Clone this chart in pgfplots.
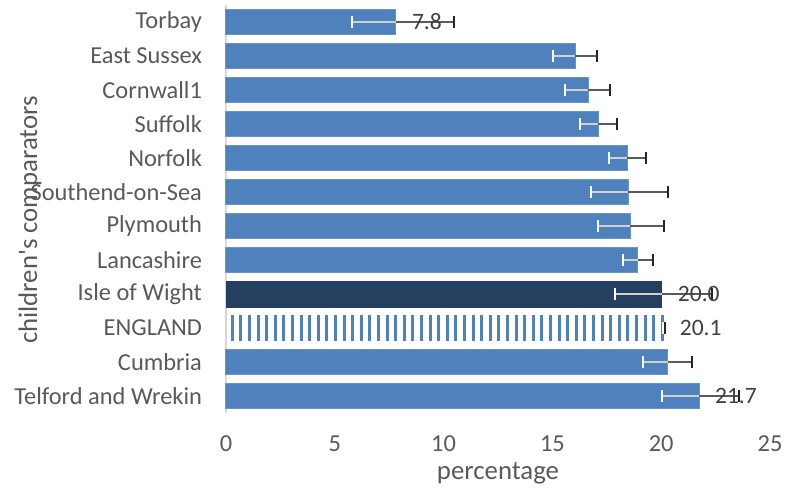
\documentclass[border=0pt]{standalone}
\usepackage{fontspec}
\setmainfont{Carlito}
\usepackage{pgfplots}
\usepackage{pgfplotstable}
\pgfplotsset{compat=1.18}
\usetikzlibrary{patterns.meta}
\definecolor{barblue}{HTML}{4F81BD}
\definecolor{darkblue}{HTML}{243F60}
\definecolor{textgray}{HTML}{595959}
\definecolor{labelgray}{HTML}{404040}
\definecolor{axisgray}{HTML}{D9D9D9}
\definecolor{errlight}{HTML}{D0D0D0}
\definecolor{errdark}{HTML}{5A5A5A}
\definecolor{capdark}{HTML}{262626}

\pgfplotstableread{
pos val em ep
11 7.81 2.03 2.68
10 16.04 1.00 1.02
9 16.64 1.04 1.02
8 17.11 0.84 0.87
7 18.44 0.83 0.84
6 18.49 1.72 1.84
5 18.58 1.47 1.57
4 18.92 0.66 0.69
3 20.03 2.15 2.32
2 20.12 0.05 0.05
1 20.29 1.14 1.14
0 21.74 1.69 1.85
}\errtable

\pgfplotstableread{
pos val
11 7.81
3 20.03
2 20.12
0 21.74
}\labeltable

\begin{document}
\begin{tikzpicture}
\useasboundingbox (-113pt,-37pt) rectangle (279.5pt,206.5pt);
\begin{axis}[
  at={(0,0)}, anchor=south west,
  scale only axis, width=272pt, height=204pt,
  xmin=0, xmax=25, ymin=-0.5, ymax=11.5,
  xtick={0,5,...,25}, ytick={0,...,11},
  yticklabels={Telford and Wrekin, Cumbria, ENGLAND, Isle of Wight, Lancashire, Plymouth, Southend-on-Sea, Norfolk, Suffolk, Cornwall1, East Sussex, Torbay},
  axis lines*=left,
  x axis line style={draw=none},
  y axis line style={draw=axisgray, line width=1pt},
  major tick length=0pt,
  tick style={draw=none},
  /pgf/number format/assume math mode=true,
  tick label style={font=\fontsize{12.2}{14}\selectfont, color=textgray},
  xticklabel style={yshift=-8pt},
  yticklabel style={xshift=-8.5pt},
  xlabel={percentage}, ylabel={children\textquotesingle s comparators},
  label style={font=\fontsize{13.4}{15}\selectfont, color=textgray},
  xlabel style={at={(axis description cs:0.5,-0.147)}, anchor=center},
  ylabel style={at={(axis description cs:-0.3603,0.473)}, anchor=center},
  clip=false,
]
\addplot[xbar, bar width=0.76, bar shift=0pt, fill=barblue, draw=barblue!85!white, line width=0.5pt]
  coordinates {(7.81,11) (16.04,10) (16.64,9) (17.11,8) (18.44,7) (18.49,6) (18.58,5) (18.92,4) (20.29,1) (21.74,0)};
\addplot[xbar, bar width=0.76, bar shift=0pt, fill=darkblue, draw=darkblue]
  coordinates {(20.03,3)};
\addplot[xbar, bar width=0.76, bar shift=0pt, draw=none, pattern={Lines[angle=90,distance=4.3pt,line width=1.5pt]}, pattern color=barblue]
  coordinates {(20.12,2)};
% error bars: minus side (light), plus side (dark)
\addplot[forget plot, only marks, mark=*, mark options={opacity=0},
  error bars/.cd, x dir=minus, x explicit,
  error bar style={color=errlight, line width=1pt},
  error mark options={rotate=90, color=white, line width=1pt, mark size=3pt, opacity=1}]
  table[x=val, y=pos, x error minus=em] {\errtable};
\addplot[forget plot, only marks, mark=*, mark options={opacity=0},
  error bars/.cd, x dir=plus, x explicit,
  error bar style={color=errdark, line width=1pt},
  error mark options={rotate=90, color=capdark, line width=1pt, mark size=3pt, opacity=1}]
  table[x=val, y=pos, x error plus=ep] {\errtable};
% data labels
\addplot[forget plot, only marks, mark=*, mark options={opacity=0}, point meta=x,
  nodes near coords,
  nodes near coords style={anchor=west, xshift=4.5pt, font=\fontsize{11.75}{14}\selectfont, color=labelgray, opacity=1,
    /pgf/number format/.cd, fixed, fixed zerofill, precision=1},
  ] table[x=val, y=pos] {\labeltable};
\end{axis}
\end{tikzpicture}
\end{document}
